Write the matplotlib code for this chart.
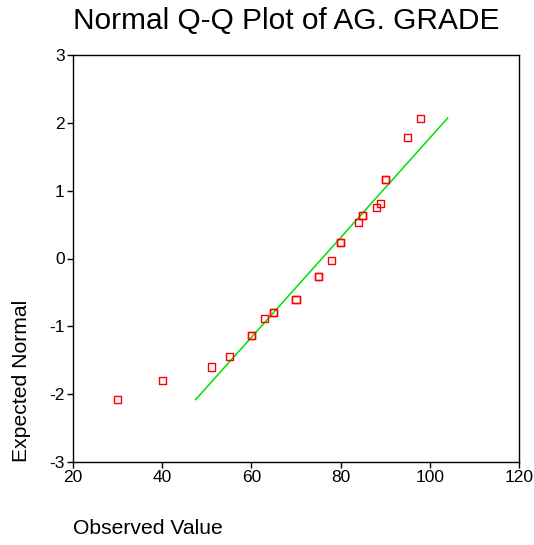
import matplotlib
matplotlib.use("Agg")
import matplotlib.pyplot as plt

plt.rcParams['font.family'] = ['Liberation Sans', 'DejaVu Sans']
plt.rcParams['axes.unicode_minus'] = False

observed = [30, 40, 51, 55, 60, 60, 63, 65, 65, 70, 70, 75, 75, 78, 80, 80,
            84, 85, 85, 88, 89, 90, 90, 95, 98]
expected = [-2.08, -1.80, -1.60, -1.44, -1.13, -1.13, -0.89, -0.79, -0.79,
            -0.60, -0.60, -0.27, -0.27, -0.03, 0.24, 0.24, 0.53, 0.64, 0.64,
            0.75, 0.81, 1.17, 1.17, 1.78, 2.07]

# reference line end points
line_x = [47.5, 104.0]
line_y = [-2.08, 2.07]

x_ticks = [20, 40, 60, 80, 100, 120]
y_ticks = [-3, -2, -1, 0, 1, 2, 3]

fig = plt.figure(figsize=(5.34, 5.45), dpi=100)
ax = fig.add_axes([73 / 534, 1 - 462 / 545, 446 / 534, 407 / 545])

ax.plot(line_x, line_y, color='#00e000', lw=1.1, zorder=2)
ax.scatter(observed, expected, marker='s', s=26, facecolors='none',
           edgecolors='red', linewidths=1.0, zorder=3)

ax.set_xlim(20, 120)
ax.set_ylim(-3, 3)
ax.set_xticks(x_ticks)
ax.set_yticks(y_ticks)
ax.tick_params(direction='out', length=4, width=1, labelsize=12.5, pad=2,
               top=False, right=False)
for s in ax.spines.values():
    s.set_linewidth(1)

fig.text(73 / 534, 1 - 21 / 545, 'Normal Q-Q Plot of AG. GRADE', fontsize=21.5,
         ha='left', va='center')
fig.text(73 / 534, 1 - 529 / 545, 'Observed Value', fontsize=15.2,
         ha='left', va='center')
fig.text(22 / 534, 1 - 462 / 545, 'Expected Normal', fontsize=15.2,
         rotation=90, ha='center', va='bottom')

fig.savefig('out.png', dpi=100)
